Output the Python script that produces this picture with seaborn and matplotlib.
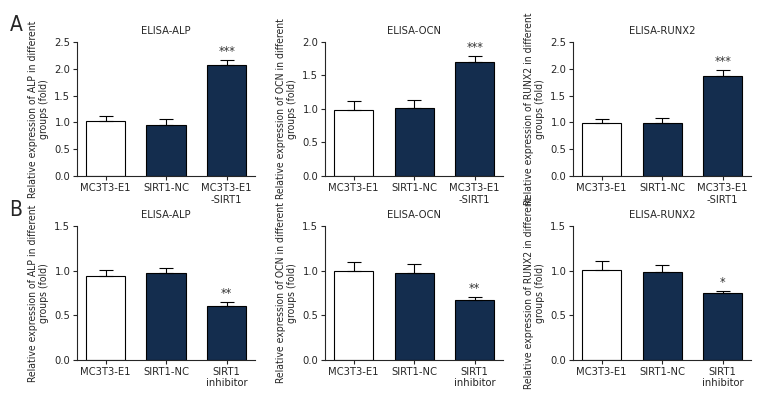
import numpy as np
import pandas as pd
import matplotlib
matplotlib.use('Agg')
import matplotlib.pyplot as plt
from matplotlib import font_manager
import seaborn as sns

# data
groups_a = ['MC3T3-E1', 'SIRT1-NC', 'MC3T3-E1\n-SIRT1']
groups_b = ['MC3T3-E1', 'SIRT1-NC', 'SIRT1\ninhibitor']
markers = ['ALP', 'OCN', 'RUNX2']

alp_a = [1.03, 0.96, 2.07]
alp_a_err = [0.08, 0.11, 0.09]
ocn_a = [0.99, 1.02, 1.70]
ocn_a_err = [0.13, 0.11, 0.09]
runx2_a = [0.99, 0.99, 1.87]
runx2_a_err = [0.08, 0.10, 0.11]

alp_b = [0.94, 0.97, 0.60]
alp_b_err = [0.07, 0.06, 0.05]
ocn_b = [1.00, 0.97, 0.67]
ocn_b_err = [0.10, 0.10, 0.04]
runx2_b = [1.005, 0.985, 0.745]
runx2_b_err = [0.105, 0.075, 0.025]

stars_a = ['***', '***', '***']
stars_b = ['**', '**', '*']
ymax_a = [2.5, 2.0, 2.5]
ymax_b = [1.5, 1.5, 1.5]

navy = '#0b2c57'

sns.set_theme(style='white')
names = {f.name for f in font_manager.fontManager.ttflist}
if 'Liberation Sans Narrow' in names:
    plt.rcParams['font.family'] = ['Liberation Sans Narrow', 'DejaVu Sans']
    narrow = True
else:
    plt.rcParams['font.family'] = ['DejaVu Sans']
    plt.rcParams['font.stretch'] = 'condensed'
    narrow = False
plt.rcParams['axes.linewidth'] = 0.8

# condensed test: compare width
fp = font_manager.FontProperties(family='DejaVu Sans', stretch='condensed')
cond_file = font_manager.findfont(fp)
if 'Condensed' not in cond_file and not narrow:
    small = 0.88
else:
    small = 1.0

fig = plt.figure(figsize=(7.8, 4.2), dpi=100)

rows = [
    (groups_a, [alp_a, ocn_a, runx2_a], [alp_a_err, ocn_a_err, runx2_a_err], stars_a, ymax_a, 0.581),
    (groups_b, [alp_b, ocn_b, runx2_b], [alp_b_err, ocn_b_err, runx2_b_err], stars_b, ymax_b, 0.143),
]
lefts = [0.099, 0.417, 0.735]

for groups, vals, errs, stars, ymaxs, bottom in rows:
    for i in range(3):
        ax = fig.add_axes([lefts[i], bottom, 0.228, 0.319])
        df = pd.DataFrame({'group': groups, 'value': vals[i]})
        sns.barplot(data=df, x='group', y='value', ax=ax, order=groups,
                    palette=['white', navy, navy], hue='group', legend=False,
                    edgecolor='black', linewidth=0.8, width=0.65, errorbar=None)
        ax.errorbar(range(3), vals[i], yerr=[np.zeros(3), errs[i]], fmt='none',
                    ecolor='black', elinewidth=0.8, capsize=5, capthick=0.8)
        top = vals[i][2] + errs[i][2]
        ax.text(2, top + ymaxs[i] * 0.015, stars[i], ha='center', va='bottom',
                fontsize=9, color='#333333')
        ax.set_xlim(-0.47, 2.47)
        ax.set_ylim(0, ymaxs[i])
        ax.set_yticks(np.arange(0, ymaxs[i] + 0.01, 0.5))
        ax.set_yticklabels([f'{t:.1f}' for t in np.arange(0, ymaxs[i] + 0.01, 0.5)])
        ax.set_xlabel('')
        ax.set_ylabel(f'Relative expression of {markers[i]} in different\ngroups (fold)',
                      fontsize=7.5 * small, labelpad=4, linespacing=1.05)
        ax.set_title(f'ELISA-{markers[i]}', fontsize=8 * small, pad=6)
        ax.tick_params(axis='both', which='major', direction='out', length=3, width=0.8,
                       labelsize=8 * small, bottom=True, left=True, pad=2)
        sns.despine(ax=ax)

fig.text(0.012, 0.965, 'A', fontsize=15, va='top')
fig.text(0.012, 0.525, 'B', fontsize=15, va='top')

fig.savefig('out.png', dpi=100)
